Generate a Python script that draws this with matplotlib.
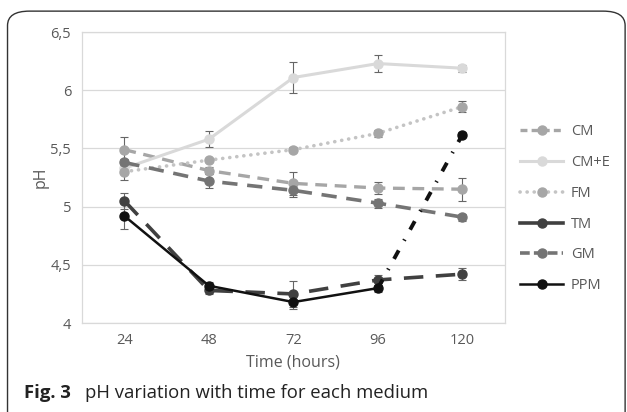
import numpy as np
import matplotlib.pyplot as plt
from matplotlib.patches import FancyBboxPatch
from matplotlib.lines import Line2D

plt.rcParams['font.family'] = ['Open Sans', 'DejaVu Sans']
plt.rcParams['lines.scale_dashes'] = False

# datos
horas = ['24', '48', '72', '96', '120']
cm = [5.49, 5.31, 5.20, 5.16, 5.15]
cm_err = [0.11, 0.03, 0.10, 0.05, 0.10]
cme = [5.33, 5.58, 6.11, 6.23, 6.19]
cme_err = [0.03, 0.07, 0.13, 0.07, 0.03]
fm = [5.30, 5.40, 5.49, 5.63, 5.86]
fm_err = [0.07, 0.02, 0.02, 0.03, 0.05]
tm = [5.05, 4.28, 4.25, 4.37, 4.42]
tm_err = [0.07, 0.03, 0.11, 0.04, 0.05]
gm = [5.38, 5.22, 5.14, 5.03, 4.91]
gm_err = [0.03, 0.06, 0.06, 0.04, 0.03]
ppm = [4.92, 4.32, 4.18, 4.30, 5.62]
ppm_err = [0.11, 0.03, 0.06, 0.03, 0.02]

x = np.arange(len(horas))

fig = plt.figure(figsize=(6.27, 4.12), dpi=100)
ax = fig.add_axes([0.131, 0.216, 0.674, 0.706])

# marco redondeado
marco = FancyBboxPatch((0.012, -0.2), 0.985, 1.173, boxstyle='round,pad=0,rounding_size=0.035',
                       transform=fig.transFigure, fill=False, ec='#333333', lw=1.0, clip_on=False)
fig.patches.append(marco)

errkw = dict(fmt='none', ecolor='#666666', elinewidth=0.8, capsize=3, capthick=0.8, zorder=2)

def serie(y, e, color, ls, lw, ms, mc=None, z=3):
    mc = mc or color
    ax.errorbar(x, y, yerr=e, **errkw)
    ax.plot(x, y, color=color, linestyle=ls, lw=lw, marker='o', ms=ms,
            mfc=mc, mec=mc, zorder=z, dash_capstyle='butt', solid_capstyle='round')

serie(cm, cm_err, '#a6a6a6', (0, (8.5, 5.5)), 2.4, 6.5, z=3)
serie(cme, cme_err, '#d9d9d9', '-', 2.2, 6.5, z=3.1)
ax.errorbar(x, fm, yerr=fm_err, **errkw)
ax.plot(x, fm, color='#c4c4c4', linestyle=(0, (0.1, 5)), lw=2.6, dash_capstyle='round', zorder=3.2)
ax.plot(x, fm, 'o', color='#a6a6a6', ms=6.5, zorder=3.2)
serie(tm, tm_err, '#404040', (0, (14, 9)), 2.6, 6.5, z=3.3)
serie(gm, gm_err, '#747474', (0, (11, 7)), 2.6, 6.5, z=3.4)

# PPM: linea continua hasta 96 h, luego raya-punto
ax.errorbar(x, ppm, yerr=ppm_err, **errkw)
ax.plot(x[:4], ppm[:4], color='#111111', lw=1.8, marker='o', ms=6.5, zorder=3.5)
ax.plot(x[3:], ppm[3:], color='#111111', lw=2.8, linestyle=(0, (7, 8, 1, 8)), zorder=3.5)
ax.plot(x[4:], ppm[4:], 'o', color='#111111', ms=6.5, zorder=3.5)

ax.set_xlim(-0.5, 4.5)
ax.set_ylim(4, 6.5)
ax.set_xticks(x)
ax.set_xticklabels(horas)
yt = [4, 4.5, 5, 5.5, 6, 6.5]
ax.set_yticks(yt)
ax.set_yticklabels(['4', '4,5', '5', '5,5', '6', '6,5'])
ax.tick_params(length=0, colors='#595959', labelsize=10.5)
ax.tick_params(axis='x', pad=7)
ax.tick_params(axis='y', pad=8)
ax.grid(axis='y', color='#d9d9d9', lw=0.9)
ax.set_axisbelow(True)
for s in ax.spines.values():
    s.set_color('#d9d9d9')
    s.set_linewidth(0.9)
ax.set_xlabel('Time (hours)', color='#595959', fontsize=11.5, labelpad=5)
ax.set_ylabel('pH', color='#595959', fontsize=11.5, labelpad=1)

# leyenda
h = [
    Line2D([], [], color='#a6a6a6', ls=(0, (5, 3)), lw=2.4, marker='o', ms=6.5),
    Line2D([], [], color='#d9d9d9', ls='-', lw=2.2, marker='o', ms=6.5),
    Line2D([], [], color='#c4c4c4', ls=(0, (0.1, 5)), lw=2.6, dash_capstyle='round',
           marker='o', ms=6.5, mfc='#a6a6a6', mec='#a6a6a6'),
    Line2D([], [], color='#404040', ls='-', lw=2.6, marker='o', ms=6.5),
    Line2D([], [], color='#747474', ls=(0, (7, 3)), lw=2.6, marker='o', ms=6.5),
    Line2D([], [], color='#111111', ls='-', lw=1.8, marker='o', ms=6.5),
]
leg = fig.legend(h, ['CM', 'CM+E', 'FM', 'TM', 'GM', 'PPM'], loc='upper left',
                 bbox_to_anchor=(0.808, 0.73), frameon=False, fontsize=10.5,
                 handlelength=3.0, labelspacing=1.08, handletextpad=0.5)
for t in leg.get_texts():
    t.set_color('#595959')

fig.text(0.038, 0.033, 'Fig. 3', fontsize=13.3, fontweight='bold', color='#222222')
fig.text(0.136, 0.033, 'pH variation with time for each medium', fontsize=13.3, color='#222222')

fig.savefig('out.png', dpi=100)
